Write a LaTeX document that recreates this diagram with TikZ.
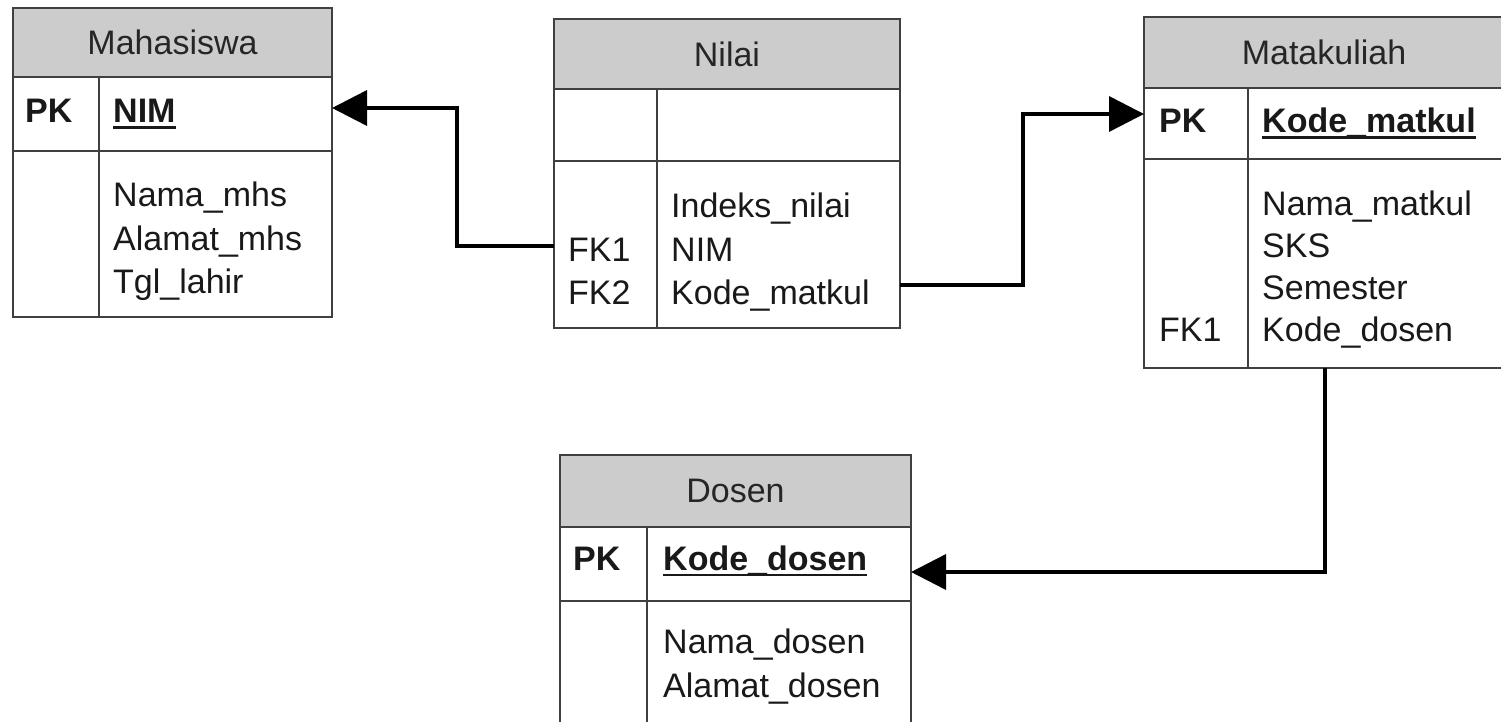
\documentclass[tikz,border=0pt]{standalone}
\usepackage{fontspec}
\setmainfont{Liberation Sans}
\usetikzlibrary{arrows.meta}
\usetikzlibrary{calc}
\usetikzlibrary{positioning}
\newcommand{\keyname}[1]{\setbox0=\hbox{#1}\rlap{\rule[-6pt]{\wd0}{2.5pt}}\box0}

\begin{document}
\begin{tikzpicture}[x=1pt,y=-1pt,>={Triangle[length=35pt,width=35pt]}]
  \tikzstyle{tbl}=[draw=black!75, line width=2.5pt, fill=white, anchor=north west, inner sep=0pt, outer sep=0pt]
  \tikzstyle{hdr}=[tbl, fill=black!20, text=black!85, font=\fontsize{34}{42}\selectfont]
  \tikzstyle{txt}=[anchor=base west, inner sep=0pt, text=black!90, font=\fontsize{34}{42}\selectfont]
  \tikzstyle{pk}=[txt, font=\fontsize{34}{42}\selectfont\bfseries]
  \tikzstyle{div}=[draw=black!75, line width=2.5pt]
  \tikzstyle{rel}=[->, line width=3.5pt, black]
  \useasboundingbox (0,0) rectangle (1501,722);

  % Mahasiswa
  \node[hdr, minimum width=319pt, minimum height=69pt] (mhs) at (13,8) {Mahasiswa};
  \node[tbl, minimum width=319pt, minimum height=74pt] (mhsPK) at (mhs.south west) {};
  \node[tbl, minimum width=319pt, minimum height=166pt] (mhsBody) at (mhsPK.south west) {};
  \draw[div] ($(mhsPK.north west)+(86,0)$) -- ($(mhsBody.south west)+(86,0)$);
  \node[pk] (mhsPKl) at (25,123) {PK};
  \node[pk] (mhsKey) at (113,123) {\keyname{NIM}};
  \foreach \a [count=\i] in {Nama\_mhs,Alamat\_mhs,Tgl\_lahir}
    \node[txt] (mhsA\i) at (113,164+43*\i) {\a};

  % Nilai
  \node[hdr, minimum width=346pt, minimum height=70pt] (nil) at (554,19) {Nilai};
  \node[tbl, minimum width=346pt, minimum height=72pt] (nilPK) at (nil.south west) {};
  \node[tbl, minimum width=346pt, minimum height=167pt] (nilBody) at (nilPK.south west) {};
  \draw[div] ($(nilPK.north west)+(103,0)$) -- ($(nilBody.south west)+(103,0)$);
  \foreach \a [count=\i] in {Indeks\_nilai,NIM,Kode\_matkul}
    \node[txt] (nilA\i) at (671,175+43*\i) {\a};
  \node[txt] (nilFK1) at (568,261) {FK1};
  \node[txt] (nilFK2) at (568,304) {FK2};

  % Matakuliah
  \node[hdr, minimum width=360pt, minimum height=71pt] (mk) at (1144,17) {Matakuliah};
  \node[tbl, minimum width=360pt, minimum height=71pt] (mkPK) at (mk.south west) {};
  \node[tbl, minimum width=360pt, minimum height=209pt] (mkBody) at (mkPK.south west) {};
  \draw[div] ($(mkPK.north west)+(104,0)$) -- ($(mkBody.south west)+(104,0)$);
  \node[pk] (mkPKl) at (1159,133) {PK};
  \node[pk] (mkKey) at (1262,133) {\keyname{Kode\_matkul}};
  \foreach \a [count=\i] in {Nama\_matkul,SKS,Semester,Kode\_dosen}
    \node[txt] (mkA\i) at (1262,173+42*\i) {\a};
  \node[txt] (mkFK1) at (1159,341) {FK1};

  % Dosen
  \node[hdr, minimum width=351pt, minimum height=72pt] (ds) at (560,455) {Dosen};
  \node[tbl, minimum width=351pt, minimum height=74pt] (dsPK) at (ds.south west) {};
  \node[tbl, minimum width=351pt, minimum height=139pt] (dsBody) at (dsPK.south west) {};
  \draw[div] ($(dsPK.north west)+(87,0)$) -- ($(dsBody.south west)+(87,0)$);
  \node[pk] (dsPKl) at (573,570) {PK};
  \node[pk] (dsKey) at (663,570) {\keyname{Kode\_dosen}};
  \node[txt] (dsA1) at (663,653) {Nama\_dosen};
  \node[txt] (dsA2) at (663,697) {Alamat\_dosen};

  % relasi
  \coordinate (r1a) at (457,246);
  \coordinate (r1b) at (457,108);
  \coordinate (r2a) at (1023,285);
  \coordinate (r2b) at (1023,114);
  \coordinate (r3) at (1325,572);
  \draw[rel] (nilBody.west |- r1a) -- (r1a) -- (r1b) -- (mhsPK.east |- r1b);
  \draw[rel] (nilBody.east |- r2a) -- (r2a) -- (r2b) -- (mkPK.west |- r2b);
  \draw[rel] (mkBody.south -| r3) -- (r3) -- (dsPK.east |- r3);
\end{tikzpicture}
\end{document}
